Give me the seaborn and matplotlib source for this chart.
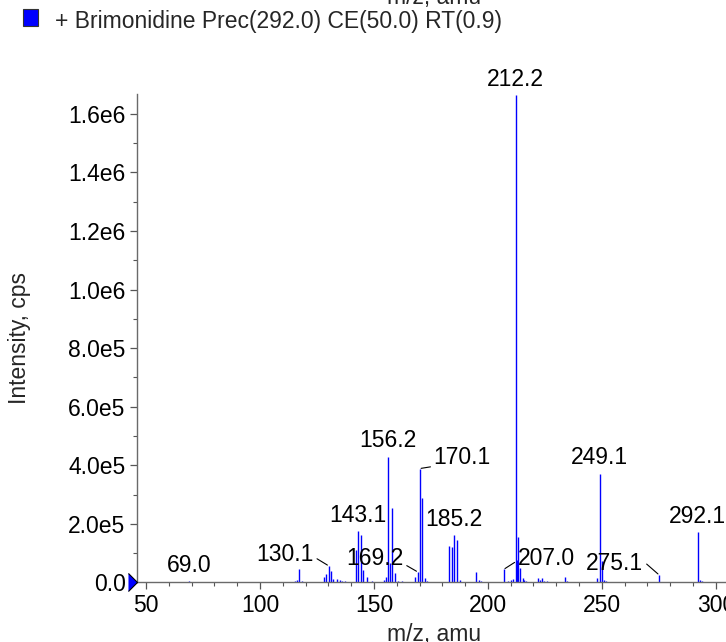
import matplotlib
matplotlib.use("Agg")
import matplotlib.pyplot as plt
import matplotlib.ticker as mticker
from matplotlib.patches import Rectangle
import seaborn as sns
import pandas as pd

# peak list (m/z, intensity in cps)
mz = [56.1, 59.1, 69.0, 70.0, 79.0, 83.9, 89.3,
      100.3, 102.9, 104.5, 106.2, 108.0, 115.3, 116.1, 117.1, 118.4, 119.3,
      128.2, 129.1, 130.1, 131.3, 132.2, 133.9, 135.2, 136.1, 137.3, 139.5,
      142.1, 143.1, 144.3, 145.3, 147.1, 149.0, 151.6, 154.5, 155.3,
      156.2, 157.2, 158.1, 159.1, 160.6, 162.1, 163.6, 165.5, 168.1, 169.2,
      170.1, 171.1, 172.4, 173.4, 175.5, 177.5,
      183.0, 184.1, 185.2, 186.3, 187.7, 195.0, 196.0, 197.1,
      207.0, 208.9, 210.0, 210.9, 212.2, 212.9, 213.4, 214.2, 215.2, 215.8, 216.7,
      219.9, 222.1, 222.8, 223.7, 224.6, 225.8, 233.9, 234.8,
      247.9, 249.1, 250.2, 250.9, 252.0, 253.1, 275.1, 276.2,
      292.1, 293.2, 293.8]
intensity = [2e3, 2e3, 5e3, 3e3, 2e3, 2e3, 2e3,
             3e3, 2e3, 2e3, 2e3, 2e3, 6e3, 9e3, 45e3, 4e3, 3e3,
             19e3, 30e3, 57e3, 39e3, 12e3, 12e3, 8e3, 6e3, 4e3, 3e3,
             111e3, 176e3, 162e3, 43e3, 19e3, 4e3, 3e3, 8e3, 20e3,
             430e3, 65e3, 256e3, 32e3, 6e3, 4e3, 3e3, 3e3, 20e3, 36e3,
             389e3, 290e3, 14e3, 5e3, 3e3, 3e3,
             126e3, 122e3, 162e3, 145e3, 8e3, 35e3, 10e3, 4e3,
             45e3, 5e3, 8e3, 12e3, 1.664e6, 77e3, 155e3, 50e3, 14e3, 10e3, 5e3,
             3e3, 14e3, 10e3, 17e3, 6e3, 4e3, 20e3, 5e3,
             14e3, 372e3, 73e3, 8e3, 4e3, 3e3, 26e3, 3e3,
             171e3, 7e3, 5e3]

# labelled peaks; leader labels carry a text position (m/z, intensity) and relpos
label_text = ["69.0", "130.1", "143.1", "156.2", "169.2", "170.1", "185.2",
              "207.0", "212.2", "249.1", "275.1", "292.1"]
label_mz = [69.0, 130.1, 143.1, 156.2, 169.2, 170.1, 185.2, 207.0, 212.2, 249.1, 275.1, 292.1]
label_int = [5e3, 57e3, 176e3, 430e3, 36e3, 389e3, 162e3, 45e3, 1.664e6, 372e3, 26e3, 171e3]
leader_pos = {"130.1": (111.0, 95.6e3, (1.0, 0.4)),
              "169.2": (150.4, 83.6e3, (1.0, 0.25)),
              "170.1": (188.8, 428e3, (0.0, 0.1)),
              "207.0": (225.7, 83.6e3, (0.0, 0.4)),
              "275.1": (255.7, 64.8e3, (1.0, 0.6))}

df = pd.DataFrame({"mz": mz, "intensity": intensity})

sns.set_theme(style="ticks")
plt.rcParams["font.family"] = ["Liberation Sans", "DejaVu Sans"]
FS = 16.5

fig = plt.figure(figsize=(7.26, 6.42), dpi=100)
ax = fig.add_axes([0.1883, 0.0927, 0.829, 0.7609])

ax.vlines(df["mz"], 0, df["intensity"], colors="#0000ff", linewidth=1.0)

x0, x1 = 45.9, 310
ax.set_xlim(x0, x1)
ax.set_ylim(0, 1.668e6)

ax.xaxis.set_major_locator(mticker.MultipleLocator(50))
ax.xaxis.set_minor_locator(mticker.MultipleLocator(10))
ax.yaxis.set_major_locator(mticker.MultipleLocator(2e5))
ax.yaxis.set_minor_locator(mticker.MultipleLocator(1e5))


def sci(v, pos):
    if v == 0:
        return "0.0"
    s = "%.1e" % v
    m, e = s.split("e")
    return "%se%d" % (m, int(e))


ax.yaxis.set_major_formatter(mticker.FuncFormatter(sci))

for side in ["top", "right"]:
    ax.spines[side].set_visible(False)
for side in ["left", "bottom"]:
    ax.spines[side].set_color("#6a6a6a")
    ax.spines[side].set_linewidth(1.0)

ax.tick_params(which="major", direction="out", length=5, width=0.9, color="#555555",
               labelsize=FS, labelcolor="black", pad=3)
ax.tick_params(which="minor", direction="out", length=3, width=0.8, color="#555555")

# peak labels
for t, m, h in zip(label_text, label_mz, label_int):
    if t in leader_pos:
        tx, ty, rp = leader_pos[t]
        ax.annotate(t, xy=(m, h), xytext=(tx, ty), ha="center", va="center",
                    fontsize=FS, color="black",
                    arrowprops=dict(arrowstyle="-", color="black", lw=0.8,
                                    relpos=rp, shrinkA=0, shrinkB=1))
    else:
        ax.annotate(t, xy=(m, h), xytext=(0, 3), textcoords="offset points",
                    ha="center", va="bottom", fontsize=FS, color="black")

# zero marker on the left axis
ax.plot([x0], [0], marker=[(-1, 1), (0, 0), (-1, -1)], ms=13, mfc="#0000ff",
        mec="black", mew=0.8, clip_on=False, zorder=5, linestyle="none")

fig.text(20 / 726, 1 - 338 / 642, "Intensity, cps", rotation=90, ha="center",
         va="center", fontsize=FS)
fig.text(434 / 726, 1 - 623 / 642, "m/z, amu", ha="center", va="top", fontsize=FS)
fig.text(434 / 726, 1 - 4 / 642, "m/z, amu", ha="center", va="baseline", fontsize=FS)

# legend entry
fig.patches.append(Rectangle((23 / 726, 1 - 26 / 642), 15 / 726, 17 / 642,
                             transform=fig.transFigure, facecolor="#0000ff",
                             edgecolor="#333333", linewidth=0.8))
fig.text(55 / 726, 1 - 28.3 / 642, "+ Brimonidine Prec(292.0) CE(50.0) RT(0.9)",
         ha="left", va="baseline", fontsize=FS)

fig.savefig("out.png", dpi=100)
